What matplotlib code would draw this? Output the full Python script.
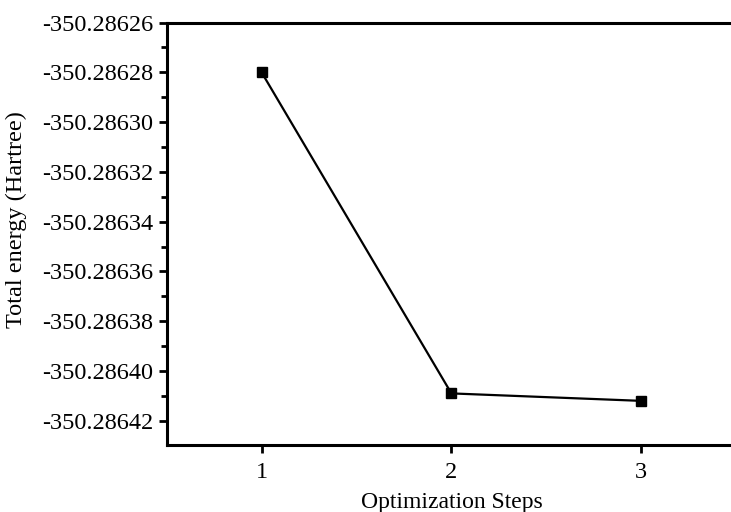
import numpy as np
import matplotlib
matplotlib.use('Agg')
import matplotlib.pyplot as plt
from matplotlib.ticker import FormatStrFormatter, MultipleLocator

# data
steps = [1, 2, 3]
energy = [-350.28628, -350.286409, -350.286412]
ytick_vals = [-350.28626, -350.28628, -350.28630, -350.28632, -350.28634,
              -350.28636, -350.28638, -350.28640, -350.28642]

plt.rcParams['font.family'] = ['Liberation Serif', 'DejaVu Serif']

fig = plt.figure(figsize=(7.31, 5.12), dpi=100)
ax = fig.add_axes([0.228, 0.131, 0.779, 0.825])

ax.plot(steps, energy, color='black', lw=1.6, marker='s', ms=6.5,
        markerfacecolor='black', markeredgecolor='black')

ax.set_xlim(0.5, 3.5)
ax.set_ylim(-350.2864297, -350.28626)
ax.set_xticks(steps)
ax.set_yticks(ytick_vals)
ax.yaxis.set_major_formatter(FormatStrFormatter('%.5f'))
ax.yaxis.set_minor_locator(MultipleLocator(0.00001))

for s in ['left', 'bottom', 'top']:
  ax.spines[s].set_linewidth(2.2)
ax.spines['right'].set_visible(False)

ax.tick_params(axis='both', which='major', direction='out', length=6,
               width=2, labelsize=17.5, top=False, right=False)
ax.tick_params(axis='x', which='major', pad=6.5)
ax.tick_params(axis='y', which='minor', direction='out', length=4, width=2)
ax.tick_params(axis='x', which='minor', bottom=False)

ax.set_xlabel('Optimization Steps', fontsize=17, labelpad=6)
ax.set_ylabel('Total energy (Hartree)', fontsize=17.5)
ax.yaxis.set_label_coords(-0.245, 0.533)

fig.savefig('out.png', dpi=100)
